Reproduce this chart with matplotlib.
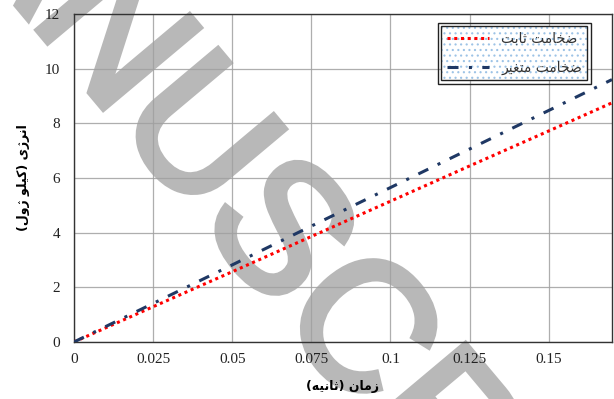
import matplotlib
matplotlib.use("Agg")
import matplotlib.pyplot as plt
import matplotlib.patheffects as pe
from matplotlib.patches import Rectangle

# time (s) and energy (kJ) for the two thickness cases
time_s = [0, 0.025, 0.05, 0.075, 0.1, 0.125, 0.15, 0.17]
energy_const = [0, 1.29, 2.57, 3.86, 5.15, 6.44, 7.72, 8.75]
energy_var = [0, 1.41, 2.82, 4.24, 5.65, 7.06, 8.47, 9.60]

x_ticks = [0, 0.025, 0.05, 0.075, 0.1, 0.125, 0.15]
x_ticklabels = ["0", "0.025", "0.05", "0.075", "0.1", "0.125", "0.15"]
y_ticks = [0, 2, 4, 6, 8, 10, 12]

# Persian strings, pre-shaped (presentation forms) and in visual order
label_const = "\uFE96\uFE91\uFE8E\uFE9B \uFE96\uFEE3\uFE8E\uFEA8\uFEBF"          # ضخامت ثابت
label_var = "\uFEAE\uFEF4\uFED0\uFE98\uFEE3 \uFE96\uFEE3\uFE8E\uFEA8\uFEBF"      # ضخامت متغیر
x_title = "(\uFEEA\uFEF4\uFEE7\uFE8E\uFE9B) \uFEE5\uFE8E\uFEE3\uFEAF"             # زمان (ثانیه)
y_title = "(\uFEDD\uFEED\uFB8A \uFEEE\uFEE0\uFEF4\uFB90) \u06CC\uFB8A\uFEAE\uFEE7\uFE8D"  # انرژی (کیلو ژول)

plt.rcParams['hatch.linewidth'] = 0.8

fig = plt.figure(figsize=(6.14, 3.99), dpi=100)
ax = fig.add_axes([0.1205, 0.1429, 0.8762, 0.822])

ax.plot(time_s, energy_const, color='#ff0000', lw=2.2,
        linestyle=(0, (1, 1.2)), label=label_const, zorder=3)
ax.plot(time_s, energy_var, color='#1f3864', lw=2.2,
        linestyle=(0, (3.6, 3.4, 1, 3.4)), label=label_var, zorder=3)

ax.set_xlim(0, 0.17)
ax.set_ylim(0, 12)
ax.set_xticks(x_ticks)
ax.set_xticklabels(x_ticklabels)
ax.set_yticks(y_ticks)
# axis (grid + tick labels) sits above the watermark, lines above both
ax.set_axisbelow(False)
ax.grid(True, color='#a0a0a0', lw=0.9, alpha=0.85)
ax.tick_params(length=0, labelsize=11, labelcolor='#222222')
ax.tick_params(axis='y', pad=10)
ax.tick_params(axis='x', pad=8)
for lab in ax.get_xticklabels() + ax.get_yticklabels():
    lab.set_fontfamily('Liberation Serif')
for sp in ax.spines.values():
    sp.set_color('#333333')
    sp.set_linewidth(1.0)
    sp.set_zorder(2.6)

ax.set_xlabel(x_title, fontfamily='DejaVu Sans', fontweight='bold',
              fontsize=9, labelpad=10)
ax.set_ylabel(y_title, fontfamily='DejaVu Sans', fontweight='bold',
              fontsize=9, labelpad=11)

leg = ax.legend(loc='upper right', bbox_to_anchor=(0.962, 0.975),
                prop={'family': 'DejaVu Sans', 'size': 10},
                handlelength=3.0, handletextpad=0.9, labelspacing=1.05,
                borderpad=0.4, borderaxespad=0.3, fancybox=False,
                framealpha=1)
for t in leg.get_texts():
    t.set_color('#333333')
frame = leg.get_frame()
frame.set_facecolor('white')
frame.set_edgecolor('#9dc3e6')
frame.set_hatch('...')
frame.set_linewidth(0)

# double border around the legend
fig.canvas.draw()
bb = leg.get_window_extent().transformed(fig.transFigure.inverted())
for grow in [0.0, 0.006]:
    fig.add_artist(Rectangle((bb.x0 - grow, bb.y0 - grow * 1.54),
                             bb.width + 2 * grow, bb.height + 2 * grow * 1.54,
                             transform=fig.transFigure, fill=False,
                             edgecolor='#222222', lw=1.0, zorder=6))

# watermark
ax.text(0.449, 0.398, "MANUSCRIPT", transform=fig.transFigure,
        fontfamily='Liberation Sans', fontsize=131, color='#b8b8b8',
        rotation=-50, rotation_mode='anchor', ha='center', va='center',
        clip_on=False, zorder=1.9,
        path_effects=[pe.withStroke(linewidth=5, foreground='#b8b8b8',
                                    joinstyle='miter')])

fig.savefig("out.png", dpi=100)
